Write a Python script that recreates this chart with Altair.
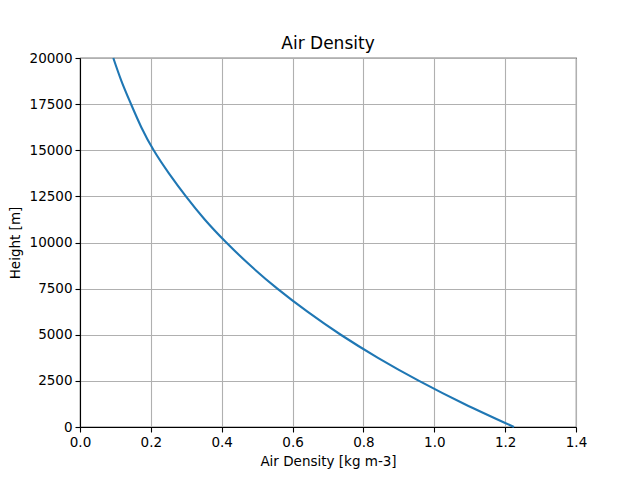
import altair as alt
import pandas as pd

heights = [0, 1250, 2500, 3750, 5000, 6250, 7500, 8750, 10000, 11250,
           12500, 13750, 15000, 16250, 17500, 18750, 20000]
density = [1.225, 1.085, 0.957, 0.841, 0.736, 0.642, 0.557, 0.481, 0.413, 0.352,
           0.299, 0.251, 0.208, 0.173, 0.144, 0.117, 0.094]
x_ticks = [0.0, 0.2, 0.4, 0.6, 0.8, 1.0, 1.2, 1.4]
y_ticks = [0, 2500, 5000, 7500, 10000, 12500, 15000, 17500, 20000]

df = pd.DataFrame({"height": heights, "density": density})

FONT = "DejaVu Sans"

chart = alt.Chart(df).mark_line(color="#1f77b4", strokeWidth=2.1, interpolate="natural").encode(
    x=alt.X("density:Q", title="Air Density [kg m-3]",
            scale=alt.Scale(domain=[0, 1.4], nice=False, zero=False),
            axis=alt.Axis(values=x_ticks, format=".1f")),
    y=alt.Y("height:Q", title="Height [m]",
            scale=alt.Scale(domain=[0, 20000], nice=False, zero=False),
            axis=alt.Axis(values=y_ticks, format="d", titlePadding=7)),
    order="height:Q",
).properties(
    width=496,
    height=369,
    title=alt.TitleParams("Air Density", font=FONT, fontSize=17, fontWeight="normal",
                          color="black", offset=-2),
    autosize=alt.AutoSizeParams(type="none"),
    padding={"left": 72, "top": 50, "right": 56, "bottom": 45},
).configure_axis(
    labelFont=FONT, labelFontSize=13.5, labelColor="black",
    titleFont=FONT, titleFontSize=13.5, titleColor="black", titleFontWeight="normal",
    domainColor="black", domainWidth=1.1,
    tickColor="black", tickSize=5, tickWidth=1.1,
    labelPadding=3,
    gridColor="#b0b0b0", gridWidth=1.1, gridOpacity=1,
    titlePadding=6,
    labelFlush=False,
).configure_axisY(
    labelOverlap=False,
).configure_view(
    stroke="black", strokeWidth=1.1,
)

chart.save("out.html", embed_options={"renderer": "svg", "actions": False})
